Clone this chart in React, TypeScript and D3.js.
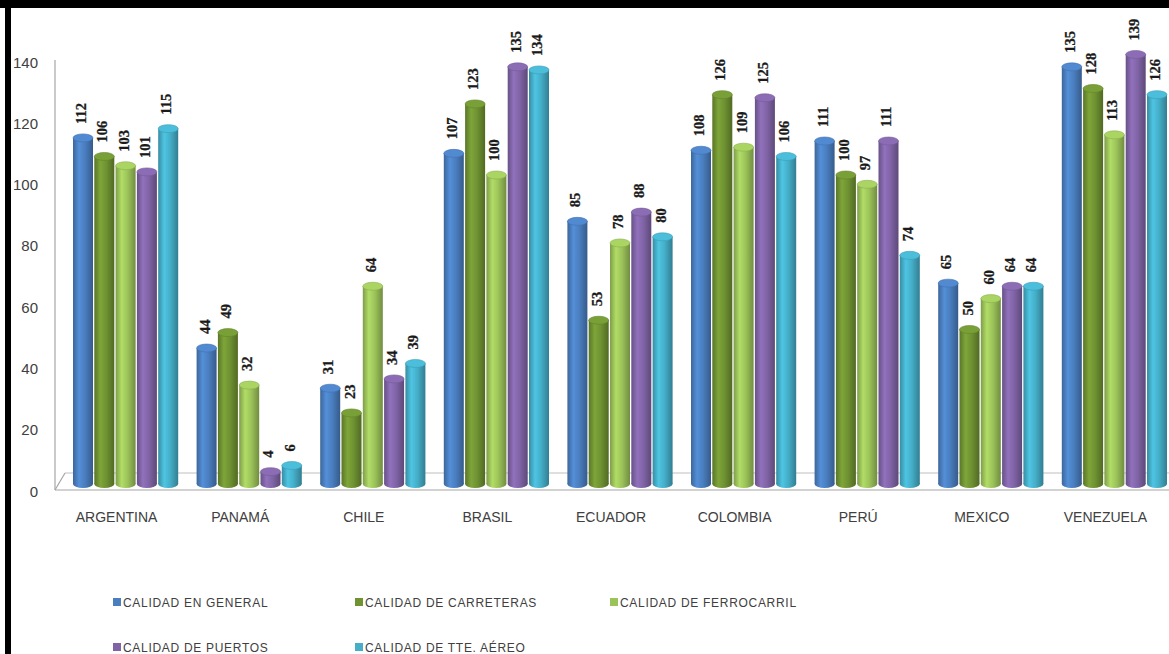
import React from "react";
import * as d3 from "d3";

const categories = ["ARGENTINA", "PANAMÁ", "CHILE", "BRASIL", "ECUADOR", "COLOMBIA", "PERÚ", "MEXICO", "VENEZUELA"];
const seriesNames = [
  "CALIDAD EN GENERAL",
  "CALIDAD DE CARRETERAS",
  "CALIDAD DE FERROCARRIL",
  "CALIDAD DE PUERTOS",
  "CALIDAD DE TTE. AÉREO",
];
const calidadGeneral = [112, 44, 31, 107, 85, 108, 111, 65, 135];
const calidadCarreteras = [106, 49, 23, 123, 53, 126, 100, 50, 128];
const calidadFerrocarril = [103, 32, 64, 100, 78, 109, 97, 60, 113];
const calidadPuertos = [101, 4, 34, 135, 88, 125, 111, 64, 139];
const calidadAereo = [115, 6, 39, 134, 80, 106, 74, 64, 126];
const seriesValues = [calidadGeneral, calidadCarreteras, calidadFerrocarril, calidadPuertos, calidadAereo];
const seriesColors = ["#4a7ebf", "#6f9232", "#9cc35a", "#8064a6", "#45aec8"];
const yTicks = [0, 20, 40, 60, 80, 100, 120, 140];

const W = 1169;
const H = 654;

export default function App() {
  const x = d3.scaleBand<string>().domain(categories).range([63.8, 63.8 + 9 * 123.6]).padding(0);
  const xi = d3.scaleBand<string>().domain(seriesNames).range([9.2, 114.4]).paddingInner(0.061).paddingOuter(0);
  const yBar = d3.scaleLinear().domain([0, 140]).range([484, 484 - 140 * 3.09]);
  const yTick = d3.scaleLinear().domain([0, 140]).range([491, 62]);
  const bw = xi.bandwidth();
  const ry = 4;

  const legendPos = [
    [113, 598],
    [355, 598],
    [610, 598],
    [113, 643],
    [355, 643],
  ];

  return (
    <svg width={W} height={H} style={{ position: "absolute", left: 0, top: 0, background: "#fff" }}>
      <defs>
        {seriesColors.map((c, i) => {
          const base = d3.color(c)!;
          return (
            <linearGradient id={`g${i}`} key={i} x1="0" x2="1" y1="0" y2="0">
              <stop offset="0%" stopColor={d3.color(c)!.darker(0.6).toString()} />
              <stop offset="30%" stopColor={d3.color(c)!.brighter(0.35).toString()} />
              <stop offset="60%" stopColor={base.toString()} />
              <stop offset="100%" stopColor={d3.color(c)!.darker(0.9).toString()} />
            </linearGradient>
          );
        })}
      </defs>
      <rect x={0} y={0} width={W} height={H} fill="#fff" />

      {/* floor / axis lines */}
      <line x1={55} y1={60} x2={55} y2={490} stroke="#a6a6a6" strokeWidth={1.2} />
      <line x1={55} y1={490} x2={W} y2={490} stroke="#a6a6a6" strokeWidth={1.2} />
      <line x1={65} y1={473} x2={W} y2={473} stroke="#bfbfbf" strokeWidth={1.2} />
      <line x1={55} y1={490} x2={65} y2={473} stroke="#a6a6a6" strokeWidth={1.2} />

      {/* y tick labels */}
      {yTicks.map((t) => (
        <text
          key={t}
          x={38}
          y={yTick(t)}
          textAnchor="end"
          dominantBaseline="central"
          fontFamily="Liberation Sans, Arial, sans-serif"
          fontSize={15}
          fill="#404040"
        >
          {t}
        </text>
      ))}

      {/* bars */}
      {categories.map((cat, ci) => (
        <g key={cat} transform={`translate(${x(cat)},0)`}>
          {seriesNames.map((s, si) => {
            const v = seriesValues[si][ci];
            const bx = xi(s)!;
            const top = yBar(v);
            const base = yBar(0);
            const cx = bx + bw / 2;
            return (
              <g key={s}>
                <ellipse cx={cx} cy={base} rx={bw / 2} ry={ry} fill={`url(#g${si})`} />
                <rect x={bx} y={top} width={bw} height={base - top} fill={`url(#g${si})`} />
                <ellipse
                  cx={cx}
                  cy={top}
                  rx={bw / 2}
                  ry={ry}
                  fill={d3.color(seriesColors[si])!.brighter(0.25).toString()}
                  stroke={d3.color(seriesColors[si])!.darker(0.3).toString()}
                  strokeWidth={0.6}
                />
              </g>
            );
          })}
        </g>
      ))}

      {/* value labels */}
      {categories.map((cat, ci) =>
        seriesNames.map((s, si) => {
          const v = seriesValues[si][ci];
          const cx = x(cat)! + xi(s)! + bw / 2 - 2;
          const ty = yBar(v) - 14;
          return (
            <text
              key={`${cat}-${s}`}
              transform={`translate(${cx},${ty}) rotate(-90)`}
              textAnchor="start"
              dominantBaseline="central"
              fontFamily="Liberation Serif, Times New Roman, serif"
              fontWeight="bold"
              fontSize={14.5}
              stroke="#1a1a1a"
              strokeWidth={0.3}
              fill="#1a1a1a"
            >
              {v}
            </text>
          );
        })
      )}

      {/* category labels */}
      {categories.map((cat) => (
        <text
          key={cat}
          x={x(cat)! + x.bandwidth() / 2 - 9}
          y={522}
          textAnchor="middle"
          fontFamily="Liberation Sans, Arial, sans-serif"
          fontSize={14}
          fill="#404040"
        >
          {cat}
        </text>
      ))}

      {/* legend */}
      {seriesNames.map((s, i) => (
        <g key={s} transform={`translate(${legendPos[i][0]},${legendPos[i][1]})`}>
          <rect x={0} y={0} width={8} height={8} fill={seriesColors[i]} />
          <text
            x={10}
            y={8.5}
            fontFamily="Liberation Sans, Arial, sans-serif"
            fontSize={12}
            letterSpacing={0.7}
            fill="#404040"
          >
            {s}
          </text>
        </g>
      ))}

      {/* frame */}
      <rect x={0} y={0} width={W} height={8} fill="#000" />
      <rect x={5} y={0} width={6} height={H} fill="#000" />
    </svg>
  );
}
